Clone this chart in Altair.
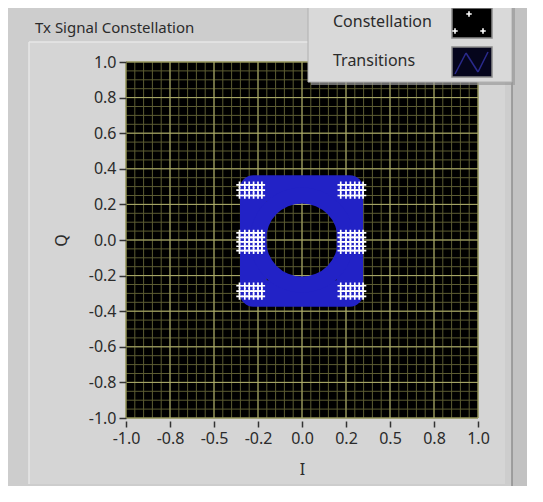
import altair as alt
import pandas as pd

# ---------------- data ----------------
# constellation cluster centres (I, Q)
cluster_I = [-0.29, -0.29, -0.29, 0.285, 0.285, 0.285]
cluster_Q = [0.28, -0.01, -0.287, 0.28, -0.01, -0.287]
# spread of samples inside each cluster
cluster_dI = [-0.065, -0.035, -0.01, 0.015, 0.04, 0.062]
corner_dQ = [-0.03, 0.0, 0.03]
middle_dQ = [-0.05, -0.025, 0.0, 0.025, 0.05]

# transition trajectories (outer square-ish band and inner round band)
square_I = [-0.277, 0.272, 0.272, -0.277]
square_Q = [0.29, 0.29, -0.30, -0.30]
circle_I = [0.25, 0.231, 0.177, 0.096, 0.0, -0.096, -0.177, -0.231,
            -0.25, -0.231, -0.177, -0.096, 0.0, 0.096, 0.177, 0.231]
circle_Q = [0.0, 0.096, 0.177, 0.231, 0.25, 0.231, 0.177, 0.096,
            0.0, -0.096, -0.177, -0.231, -0.25, -0.231, -0.177, -0.096]

# axes
x_tick_values = [-1.0, -0.75, -0.5, -0.25, 0.0, 0.25, 0.5, 0.75, 1.0]
x_tick_labels = ["-1.0", "-0.8", "-0.5", "-0.2", "0.0", "0.2", "0.5", "0.8", "1.0"]
y_tick_values = [-1.0, -0.8, -0.6, -0.4, -0.2, 0.0, 0.2, 0.4, 0.6, 0.8, 1.0]
y_tick_labels = ["-1.0", "-0.8", "-0.6", "-0.4", "-0.2", "0.0", "0.2", "0.4", "0.6", "0.8", "1.0"]
minor_grid = [round(-1 + 0.05 * i, 2) for i in range(41)]

chart_title = "Tx Signal Constellation"
legend_names = ["Constellation", "Transitions"]

# ---------------- tables ----------------
pts = []
for ci, cq in zip(cluster_I, cluster_Q):
    dqs = middle_dQ if abs(cq) < 0.1 else corner_dQ
    for di in cluster_dI:
        for dq in dqs:
            pts.append({"I": ci + di, "Q": cq + dq})
points_df = pd.DataFrame(pts)
square_df = pd.DataFrame({"I": square_I, "Q": square_Q, "o": range(len(square_I))})
circle_df = pd.DataFrame({"I": circle_I, "Q": circle_Q, "o": range(len(circle_I))})
minor_df = pd.DataFrame({"v": minor_grid})
xmaj_df = pd.DataFrame({"v": x_tick_values})
ymaj_df = pd.DataFrame({"v": y_tick_values})
dummy = pd.DataFrame({"k": [0]})

W, H = 352, 356
FONT = "Noto Sans"
TXT = "#2b2b2b"

xscale = alt.Scale(domain=[-1, 1], nice=False, zero=False)
yscale = alt.Scale(domain=[-1, 1], nice=False, zero=False)


def make_expr(values, labels):
    expr = "''"
    for v, l in reversed(list(zip(values, labels))):
        expr = f"abs(datum.value - ({v})) < 1e-6 ? '{l}' : ({expr})"
    return expr


x_axis = alt.Axis(values=x_tick_values, labelExpr=make_expr(x_tick_values, x_tick_labels),
                  grid=False, domain=False,
                  tickColor="#333333", tickSize=6, tickWidth=1.5, offset=3, zindex=2,
                  labelFont=FONT, labelFontSize=16, labelColor=TXT, labelPadding=3,
                  labelFlush=False, labelOverlap=False,
                  title="I", titleFont=FONT, titleFontSize=16, titleFontWeight="normal",
                  titleColor=TXT, titleX=W / 2, titleY=40)
y_axis = alt.Axis(values=y_tick_values, labelExpr=make_expr(y_tick_values, y_tick_labels),
                  grid=False, domain=False,
                  tickColor="#333333", tickSize=7, tickWidth=1.5, zindex=2,
                  labelFont=FONT, labelFontSize=16, labelColor=TXT, labelPadding=3,
                  labelFlush=False, labelOverlap=False,
                  title="Q", titleFont=FONT, titleFontSize=16, titleFontWeight="normal",
                  titleColor=TXT, titleX=-57, titleY=H / 2)

X = lambda f: alt.X(f, scale=xscale, axis=x_axis)
Y = lambda f: alt.Y(f, scale=yscale, axis=y_axis)


def px_rect(x1, y1, x2, y2, **kw):
    return alt.Chart(dummy).mark_rect(**kw).encode(
        x=alt.value(x1), x2=alt.value(x2), y=alt.value(y1), y2=alt.value(y2))


def px_line(x1, y1, x2, y2, **kw):
    return alt.Chart(dummy).mark_rule(**kw).encode(
        x=alt.value(x1), x2=alt.value(x2), y=alt.value(y1), y2=alt.value(y2))


def px_text(txt, x, y, size):
    return alt.Chart(dummy).mark_text(text=txt, font=FONT, fontSize=size, color=TXT,
                                      align="left", baseline="middle").encode(
        x=alt.value(x), y=alt.value(y))


# decoration of the LabVIEW control
panel = px_rect(-126, -62, 386, 428, fill="#cdcdcd")
inner = px_rect(-97, -20, 379, 422, fill="#d5d5d5")
hl_top = px_line(-97, -20, 379, -20, stroke="#e6e6e6", strokeWidth=1.5)
hl_left = px_line(-97, -20, -97, 422, stroke="#e6e6e6", strokeWidth=1.5)
edge_r = px_line(386, -62, 386, 428, stroke="#8e8e8e", strokeWidth=1.5)
edge_b = px_line(-126, 428, 386, 428, stroke="#a8a8a8", strokeWidth=1.5)
plot_bg = px_rect(0, 0, W, H, fill="black")
title_txt = px_text(chart_title, -91, -34, 15)

# grid
g_minor_x = alt.Chart(minor_df).mark_rule(stroke="#5c5c32", strokeWidth=1).encode(x=X("v:Q"))
g_minor_y = alt.Chart(minor_df).mark_rule(stroke="#5c5c32", strokeWidth=1).encode(y=Y("v:Q"))
g_major_x = alt.Chart(xmaj_df).mark_rule(stroke="#aeae6c", strokeWidth=1).encode(x=X("v:Q"))
g_major_y = alt.Chart(ymaj_df).mark_rule(stroke="#aeae6c", strokeWidth=1).encode(y=Y("v:Q"))

# transitions
BLUE = "#2222c6"
ring_sq = alt.Chart(square_df).mark_line(
    stroke=BLUE, strokeWidth=26.5, strokeJoin="round", interpolate="linear-closed").encode(
    x=X("I:Q"), y=Y("Q:Q"), order="o:Q")
ring_ci = alt.Chart(circle_df).mark_line(
    stroke=BLUE, strokeWidth=16, strokeJoin="round", interpolate="cardinal-closed").encode(
    x=X("I:Q"), y=Y("Q:Q"), order="o:Q")

# constellation samples
CROSS = "M-1,0L1,0M0,-1L0,1"
const = alt.Chart(points_df).mark_point(
    shape=CROSS, filled=False, stroke="white", strokeWidth=1.7, size=42, opacity=1).encode(
    x=X("I:Q"), y=Y("Q:Q"))

# legend box
leg_shadow = px_rect(185, -59, 389, 23, fill="#9a9a9a", opacity=0.7)
leg_box = px_rect(182, -62, 386, 20, fill="#d9d9d9", stroke="#b0b0b0", strokeWidth=1)
leg_t1 = px_text(legend_names[0], 207, -40, 16)
leg_t2 = px_text(legend_names[1], 207, -1, 16)
sw1 = px_rect(326, -54, 366, -24, fill="black", stroke="#8a8a8a", strokeWidth=1.5)
sw2 = px_rect(326, -15, 366, 15, fill="#05051c", stroke="#8a8a8a", strokeWidth=1.5)
sw_pts = [
    alt.Chart(dummy).mark_point(shape=CROSS, filled=False, stroke="white", strokeWidth=1.6,
                                size=30, opacity=1).encode(x=alt.value(px), y=alt.value(py))
    for px, py in [(343, -48), (329, -31), (357, -31)]
]
zz = [px_line(329, 12, 340, -9, stroke="#2a2a8c", strokeWidth=1.5),
      px_line(340, -9, 352, 10, stroke="#2a2a8c", strokeWidth=1.5),
      px_line(352, 10, 362, -10, stroke="#2a2a8c", strokeWidth=1.5)]

chart = alt.layer(
    panel, inner, hl_top, hl_left, edge_r, edge_b, title_txt, plot_bg,
    g_minor_x, g_minor_y, g_major_x, g_major_y,
    ring_sq, ring_ci, const,
    leg_shadow, leg_box, leg_t1, leg_t2, sw1, sw2, *sw_pts, *zz,
).properties(
    width=W, height=H,
    padding={"left": 118, "top": 54, "right": 49, "bottom": 68},
    autosize=alt.AutoSizeParams(type="none"),
    background="#c2c2c2",
).configure_view(stroke=None)

chart.save("out.html", embed_options={"renderer": "svg", "actions": False})
